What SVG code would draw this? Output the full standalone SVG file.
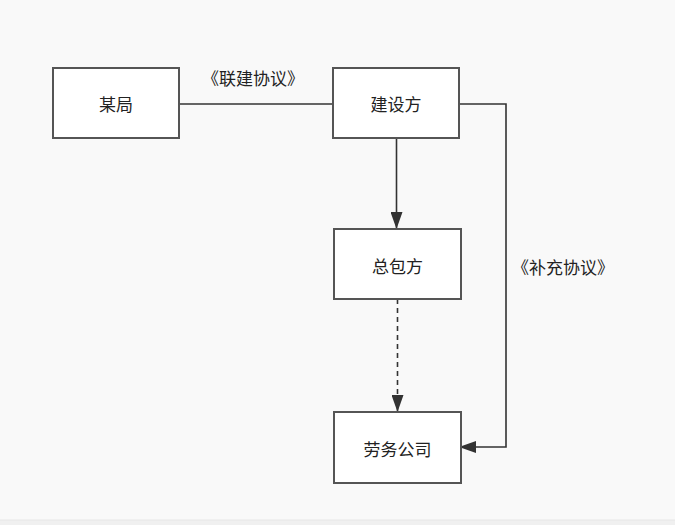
<svg xmlns="http://www.w3.org/2000/svg" width="675" height="525" viewBox="0 0 675 525">
<style>
.node rect{fill:#ffffff;stroke:#555555;stroke-width:2}
.node text,.lbl{font-family:"Noto Sans CJK SC","Liberation Sans",sans-serif;font-size:17px;fill:#222222;text-anchor:middle;dominant-baseline:central}
.edge{fill:none;stroke:#333333;stroke-width:1.6}
.dash{stroke-dasharray:5 4}
</style>
<defs>
<marker id="arr" viewBox="0 0 17 12" refX="17" refY="6" markerWidth="17" markerHeight="12" markerUnits="userSpaceOnUse" orient="auto">
<path d="M0,0 L17,6 L0,12 z" fill="#333333"/>
</marker>
</defs>
<rect x="0" y="0" width="675" height="525" fill="#f9f9f9"/>
<rect x="0" y="520" width="675" height="5" fill="#f0f0f0"/>
<line x1="0" y1="520" x2="675" y2="520" stroke="#e6e6e6" stroke-width="1"/>
<g id="connectors">
<line class="edge" x1="179" y1="104" x2="333" y2="104"/>
<line class="edge" x1="396.5" y1="138" x2="396.5" y2="229" marker-end="url(#arr)"/>
<line class="edge dash" x1="397.5" y1="299" x2="397.5" y2="412" marker-end="url(#arr)"/>
<polyline class="edge" points="459,104 506,104 506,447 459,447" marker-end="url(#arr)"/>
<text class="lbl" x="253" y="77">《联建协议》</text>
<text class="lbl" x="563" y="266">《补充协议》</text>
</g>
<g id="n1" class="node"><rect x="53" y="68" width="126" height="70"/><text x="116" y="103">某局</text></g>
<g id="n2" class="node"><rect x="333" y="68" width="126" height="70"/><text x="396" y="103">建设方</text></g>
<g id="n3" class="node"><rect x="334" y="229" width="127" height="70"/><text x="397.5" y="265">总包方</text></g>
<g id="n4" class="node"><rect x="334" y="412" width="127" height="71"/><text x="397.5" y="448">劳务公司</text></g>
</svg>
